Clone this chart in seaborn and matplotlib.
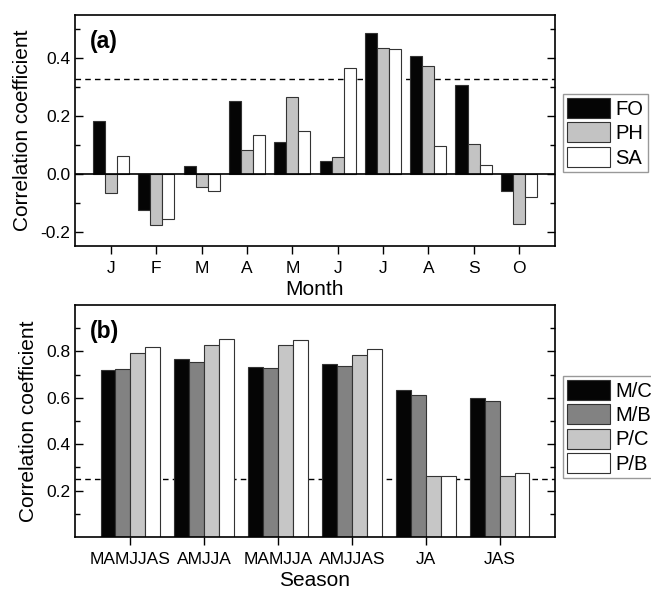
#
# Monthly and seasonal correlation bar charts, panels (a) and (b)
#

import numpy as np
import pandas as pd
import matplotlib
matplotlib.use("Agg")
import matplotlib.pyplot as plt
import seaborn as sns
from matplotlib.ticker import FixedLocator, FormatStrFormatter

## Data
months = ["Jan", "Feb", "Mar", "Apr", "May", "Jun", "Jul", "Aug", "Sep", "Oct"]
month_ticks = ["J", "F", "M", "A", "M", "J", "J", "A", "S", "O"]
fo = [0.184, -0.127, 0.027, 0.253, 0.110, 0.046, 0.486, 0.409, 0.309, -0.058]
ph = [-0.068, -0.176, -0.045, 0.082, 0.266, 0.059, 0.434, 0.372, 0.102, -0.175]
sa = [0.060, -0.156, -0.061, 0.133, 0.147, 0.367, 0.433, 0.095, 0.030, -0.082]
month_series = ["FO", "PH", "SA"]
month_colors = ["#050505", "#c3c3c3", "#ffffff"]
sig_month = 0.33

seasons = ["MAMJJAS", "AMJJA", "MAMJJA", "AMJJAS", "JA", "JAS"]
mc = [0.721, 0.766, 0.733, 0.746, 0.632, 0.600]
mb = [0.723, 0.753, 0.730, 0.737, 0.614, 0.585]
pc = [0.794, 0.827, 0.829, 0.786, 0.265, 0.265]
pb = [0.820, 0.853, 0.850, 0.810, 0.262, 0.275]
season_series = ["M/C", "M/B", "P/C", "P/B"]
season_colors = ["#050505", "#828282", "#c6c6c6", "#ffffff"]
sig_season = 0.25

df_month = pd.DataFrame({
    "cat": months * 3,
    "series": np.repeat(month_series, len(months)),
    "r": fo + ph + sa,
})
df_season = pd.DataFrame({
    "cat": seasons * 4,
    "series": np.repeat(season_series, len(seasons)),
    "r": mc + mb + pc + pb,
})

sns.set_style("ticks")
plt.rcParams["font.family"] = ["Liberation Sans", "DejaVu Sans"]
plt.rcParams["text.color"] = "black"
plt.rcParams["axes.labelcolor"] = "black"
plt.rcParams["xtick.color"] = "black"
plt.rcParams["ytick.color"] = "black"


def draw_panel(ax, df, order, hues, colors, sig, ylim, major, minor,
               xlabel, tag, leg_y, xpad):
    sns.barplot(data=df, x="cat", y="r", hue="series", order=order, hue_order=hues,
                palette=colors, saturation=1, width=0.8, edgecolor="#333333",
                linewidth=0.8, ax=ax)
    # significance level, drawn behind the bars
    ax.axhline(sig, color="black", lw=1.0, ls=(0, (4, 3)), zorder=0.5)
    ax.set_xlim(-xpad, len(order) - 1 + xpad)
    ax.set_ylim(*ylim)
    ax.yaxis.set_major_locator(FixedLocator(major))
    ax.yaxis.set_minor_locator(FixedLocator(minor))
    ax.yaxis.set_major_formatter(FormatStrFormatter("%.1f"))
    ax.tick_params(axis="y", which="major", direction="in", length=6, width=1.0,
                   left=True, right=True, labelsize=12.5)
    ax.tick_params(axis="y", which="minor", direction="in", length=3.5, width=1.0,
                   left=True, right=True)
    ax.tick_params(axis="x", which="major", direction="out", length=6, width=1.0,
                   top=False, labelsize=12.5, pad=5)
    for sp in ax.spines.values():
        sp.set_visible(True)
        sp.set_linewidth(1.2)
        sp.set_color("black")
    ax.set_xlabel(xlabel, fontsize=15, labelpad=3)
    ax.set_ylabel("Correlation coefficient", fontsize=15, labelpad=6)
    ax.text(0.03, 0.935, tag, transform=ax.transAxes, fontsize=16.5,
            fontweight="bold", va="top", ha="left")
    sns.move_legend(ax, "center left", bbox_to_anchor=(1.017, leg_y), title=None,
                    frameon=True, fontsize=14.5, handlelength=2.15, handleheight=1.15,
                    labelspacing=0.18, handletextpad=0.25, borderpad=0.2,
                    borderaxespad=0, fancybox=False, edgecolor="#808080")
    ax.get_legend().get_frame().set_linewidth(1.0)


fig = plt.figure(figsize=(6.51, 5.9), dpi=100)
ax_a = fig.add_axes([0.1152, 0.5831, 0.7373, 0.3915])
ax_b = fig.add_axes([0.1152, 0.0898, 0.7373, 0.3932])

draw_panel(ax_a, df_month, months, month_series, month_colors, sig_month,
           (-0.25, 0.55), [-0.2, 0.0, 0.2, 0.4], [-0.1, 0.1, 0.3, 0.5],
           "Month", "(a)", 0.49, 0.795)
ax_a.axhline(0, color="black", lw=1.2, zorder=3)
ax_a.set_xticks(range(len(months)))
ax_a.set_xticklabels(month_ticks)

draw_panel(ax_b, df_season, seasons, season_series, season_colors, sig_season,
           (0.0, 1.0), [0.2, 0.4, 0.6, 0.8], [0.1, 0.3, 0.5, 0.7, 0.9],
           "Season", "(b)", 0.475, 0.745)

fig.savefig("out.png", dpi=100)
